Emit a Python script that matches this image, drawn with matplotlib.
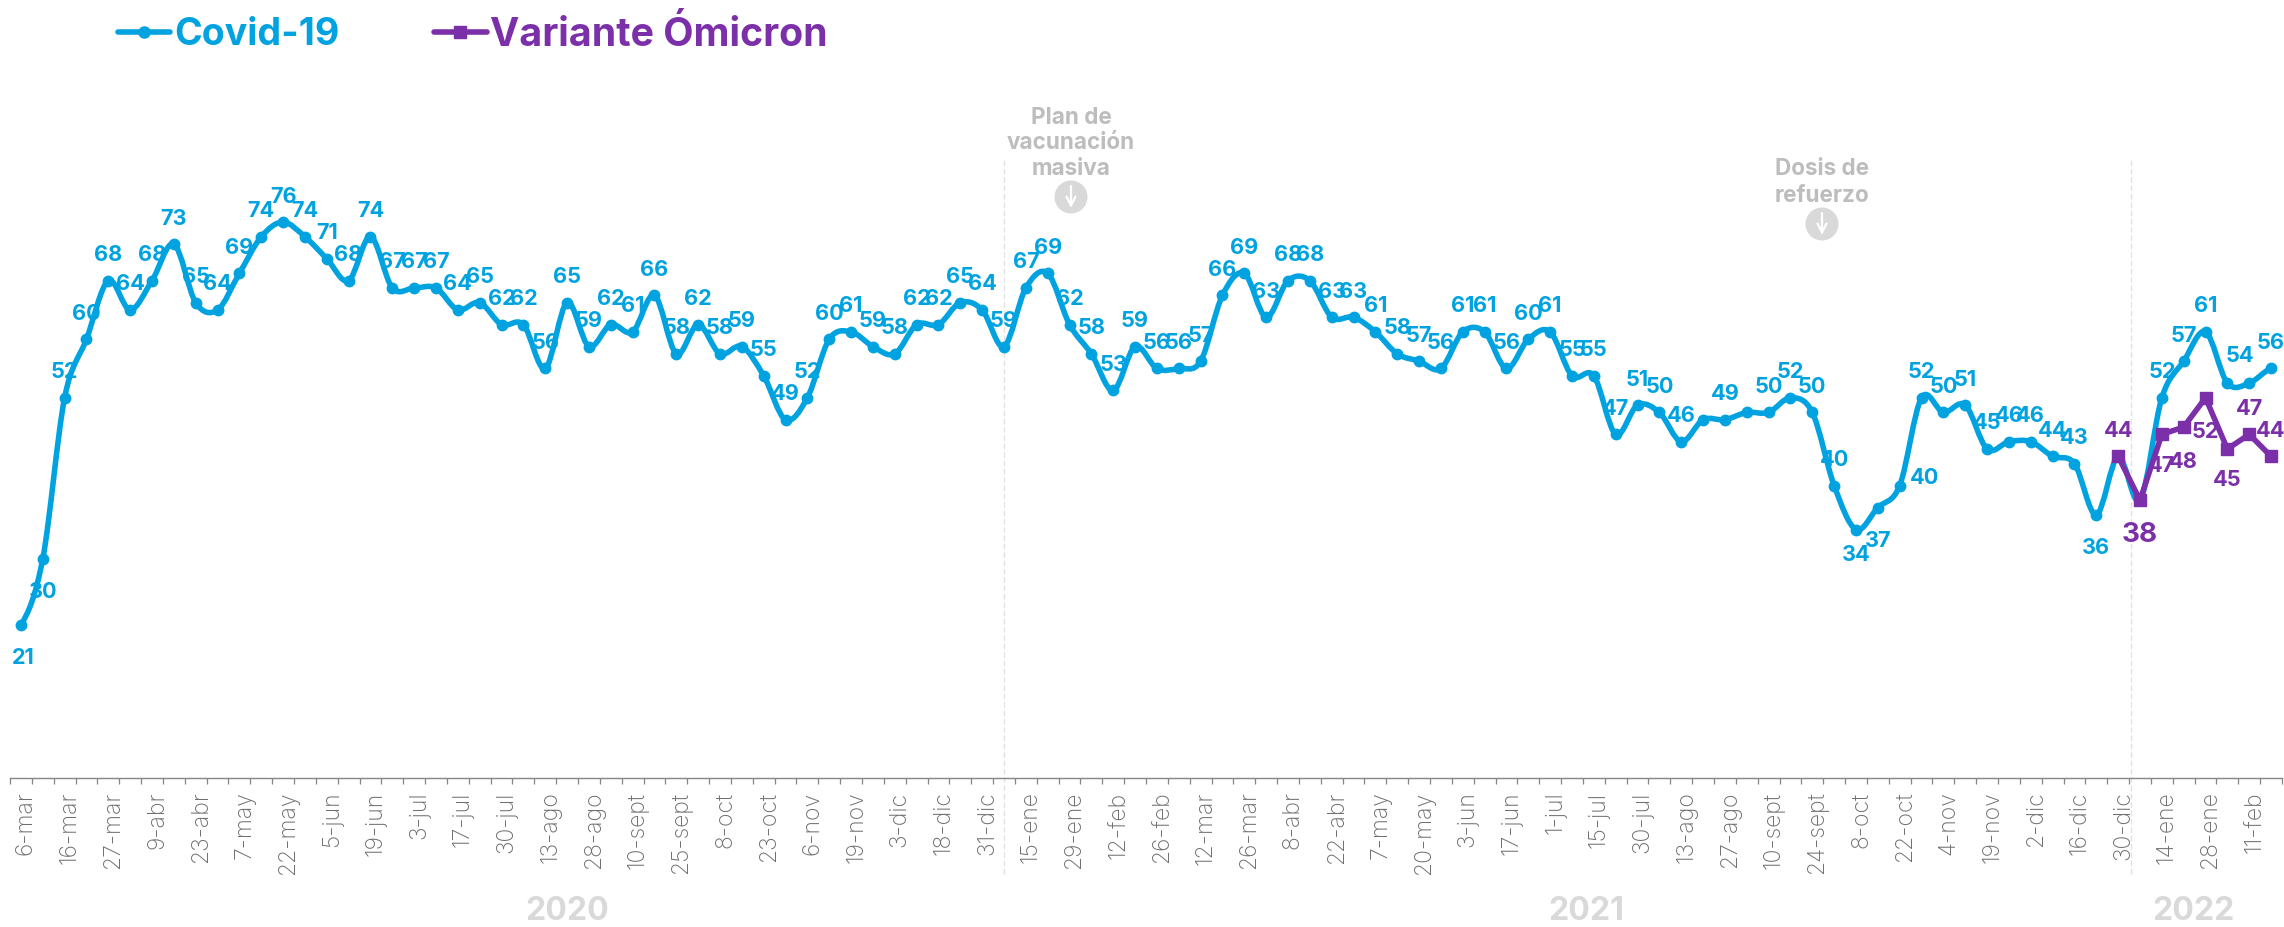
import numpy as np
import matplotlib
matplotlib.use("Agg")
import matplotlib.pyplot as plt
from matplotlib.path import Path
from matplotlib.patches import PathPatch, Circle
from matplotlib.transforms import ScaledTranslation

plt.rcParams["font.family"] = ["Inter", "DejaVu Sans"]

# Values
covid = [21, 30, 52, 60, 68, 64, 68, 73, 65, 64, 69, 74, 76, 74, 71, 68, 74, 67, 67, 67,
         64, 65, 62, 62, 56, 65, 59, 62, 61, 66, 58, 62, 58, 59, 55, 49, 52, 60, 61, 59,
         58, 62, 62, 65, 64, 59, 67, 69, 62, 58, 53, 59, 56, 56, 57, 66, 69, 63, 68, 68,
         63, 63, 61, 58, 57, 56, 61, 61, 56, 60, 61, 55, 55, 47, 51, 50, 46, 49, 49, 50,
         50, 52, 50, 40, 34, 37, 40, 52, 50, 51, 45, 46, 46, 44, 43, 36, 44, 38, 52, 57,
         61, 54, 54, 56]
omicron = [44, 38, 47, 48, 52, 45, 47, 44]
omicron_start = 96
date_labels = ["6-mar", "16-mar", "27-mar", "9-abr", "23-abr", "7-may", "22-may", "5-jun",
               "19-jun", "3-jul", "17-jul", "30-jul", "13-ago", "28-ago", "10-sept", "25-sept",
               "8-oct", "23-oct", "6-nov", "19-nov", "3-dic", "18-dic", "31-dic", "15-ene",
               "29-ene", "12-feb", "26-feb", "12-mar", "26-mar", "8-abr", "22-abr", "7-may",
               "20-may", "3-jun", "17-jun", "1-jul", "15-jul", "30-jul", "13-ago", "27-ago",
               "10-sept", "24-sept", "8-oct", "22-oct", "4-nov", "19-nov", "2-dic", "16-dic",
               "30-dic", "14-ene", "28-ene", "11-feb"]
years = ["2020", "2021", "2022"]

BLUE = "#00A3E0"
PURPLE = "#7B2FA8"
W, H = 2284, 928

fig = plt.figure(figsize=(W / 100, H / 100), dpi=100)
ax = fig.add_axes([10 / W, (H - 779.4) / H, 2272 / W, 732 / H])

# Smoothed line through the points, like the spreadsheet's smooth option
x = np.arange(len(covid))
y = np.array(covid, dtype=float)
verts = [(x[0], y[0])]
codes = [Path.MOVETO]
for i in range(len(x) - 1):
    prev_y = y[max(i - 1, 0)]
    next_y = y[min(i + 2, len(y) - 1)]
    verts.append((x[i] + 1 / 3, y[i] + (y[i + 1] - prev_y) / 6))
    verts.append((x[i + 1] - 1 / 3, y[i + 1] - (next_y - y[i]) / 6))
    verts.append((x[i + 1], y[i + 1]))
    codes += [Path.CURVE4] * 3
ax.add_patch(PathPatch(Path(verts, codes), fill=False, edgecolor=BLUE, lw=4, capstyle="round"))
ax.plot(x, y, ls="none", marker="o", ms=7.5, color=BLUE)

x_om = np.arange(omicron_start, omicron_start + len(omicron))
ax.plot(x_om, omicron, color=PURPLE, lw=4, marker="s", ms=8.5)

ax.set_xlim(-0.5, len(covid) - 0.5)
ax.set_ylim(0, 100)

# Milestone lines
for xv in [45.0, 96.6]:
    ax.plot([xv, xv], [-13, 84.6], color="#e2e2e2", lw=1, ls=(0, (4, 2)), clip_on=False, zorder=0)

# Value labels, above the point unless listed here (dx, dy in px)
covid_skip = [77, 79, 96, 97, 101]
covid_offset = {0: (2, -32), 1: (0, -32), 84: (0, -24), 85: (0, -32), 86: (25, 9),
                95: (0, -32), 102: (-9, 28)}
for i, v in enumerate(covid):
    if i in covid_skip:
        continue
    dx, dy = covid_offset.get(i, (0, 26.5))
    ax.annotate(str(v), (i, v), xytext=(dx * 0.72, dy * 0.72), textcoords="offset points",
                ha="center", va="center", color=BLUE, fontsize=15.6, fontweight="bold")

omicron_offset = [26.5, -34, -31, -34, -33, -30, 26.5, 26.5]
for i, v in enumerate(omicron):
    ax.annotate(str(v), (x_om[i], v), xytext=(0, omicron_offset[i] * 0.72),
                textcoords="offset points", ha="center", va="center", color=PURPLE,
                fontsize=20 if i == 1 else 15.6, fontweight="bold")

# Axis
for s in ["top", "left", "right"]:
    ax.spines[s].set_visible(False)
ax.spines["bottom"].set_color("#858585")
ax.spines["bottom"].set_linewidth(1)
ax.set_yticks([])
ax.set_xticks(x[::2])
ax.set_xticklabels(date_labels, rotation=90, ha="center", va="top", color="#6e6e6e",
                   fontsize=16.5, fontweight="light")
ax.set_xticks(np.arange(len(covid) + 1) - 0.5, minor=True)
ax.tick_params(axis="x", which="major", length=0, pad=8.8)
ax.tick_params(axis="x", which="minor", length=4, width=0.9, color="#858585")
shift = ScaledTranslation(5 / 100, 0, fig.dpi_scale_trans)
for lab in ax.get_xticklabels():
    lab.set_transform(lab.get_transform() + shift)

# Overlay in pixel coordinates for legend and notes
ov = fig.add_axes([0, 0, 1, 1], facecolor="none")
ov.set_xlim(0, W)
ov.set_ylim(H, 0)
ov.axis("off")

ov.plot([118, 170], [33, 33], color=BLUE, lw=4, solid_capstyle="round")
ov.plot([144], [33], marker="o", ms=8, color=BLUE)
ov.text(174, 35, "Covid-19", color=BLUE, fontsize=27, fontweight="bold", va="center", ha="left")
ov.plot([434, 487], [33, 33], color=PURPLE, lw=4, solid_capstyle="round")
ov.plot([460], [33], marker="s", ms=8, color=PURPLE)
ov.text(490, 35, "Variante Ómicron", color=PURPLE, fontsize=28.3, fontweight="bold", va="center", ha="left")

notes = [(1071, [118, 143, 169], ["Plan de", "vacunación", "masiva"], 198),
         (1822, [169, 196], ["Dosis de", "refuerzo"], 225)]
for nx, ny, lines, cy in notes:
    for yy, t in zip(ny, lines):
        ov.text(nx, yy, t, color="#bdbdbd", fontsize=16.2, fontweight="bold", ha="center", va="center")
    ov.add_patch(Circle((nx, cy), 16.5, color="#d9d9d9", lw=0))
    ov.annotate("", xy=(nx, cy + 11), xytext=(nx, cy - 11),
                arrowprops=dict(arrowstyle="->", color="white", lw=1.6, mutation_scale=16,
                                shrinkA=0, shrinkB=0))

for t, yx in zip(years, [567, 1586, 2193]):
    ov.text(yx, 912, t, color="#d9d9d9", fontsize=23, fontweight="bold", ha="center", va="center")

fig.savefig("out.png", dpi=100)
